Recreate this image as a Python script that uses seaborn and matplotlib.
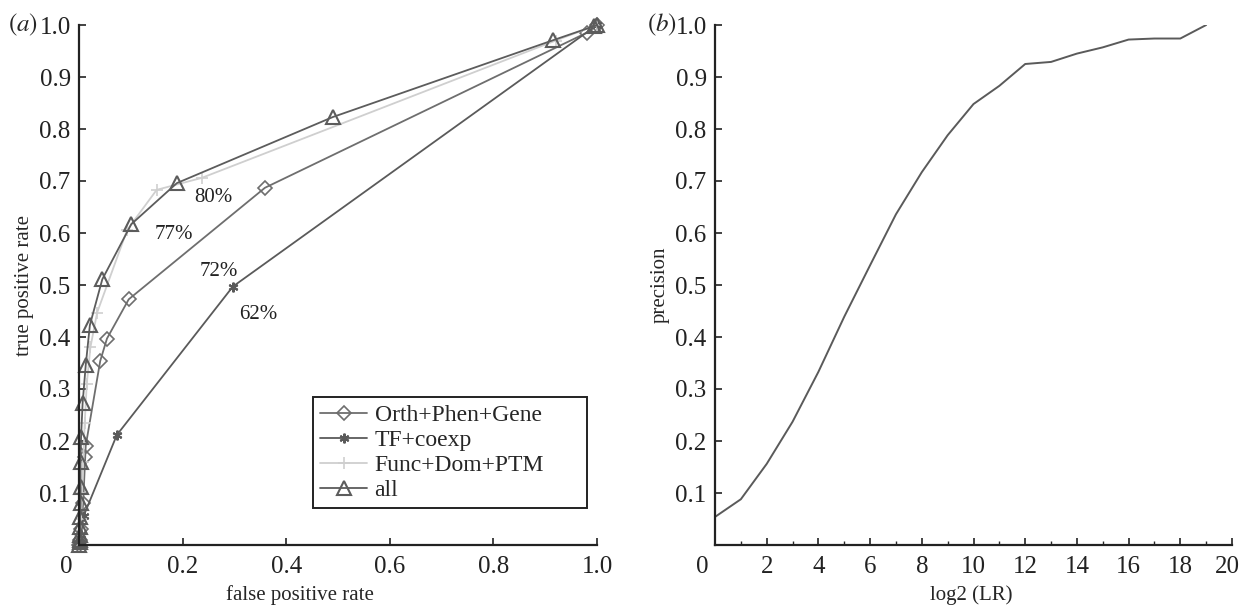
import numpy as np
import pandas as pd
import matplotlib
matplotlib.use("Agg")
import matplotlib.pyplot as plt
import matplotlib.transforms as mtransforms
import seaborn as sns

# ROC points
orth_fpr = [0, 0.002, 0.004, 0.008, 0.012, 0.013, 0.041, 0.054, 0.096, 0.359, 0.98, 1.0]
orth_tpr = [0, 0.01, 0.03, 0.08, 0.169, 0.191, 0.354, 0.397, 0.4725, 0.687, 0.985, 1.0]

tf_fpr = [0, 0.002, 0.004, 0.009, 0.073, 0.297, 1.0]
tf_tpr = [0, 0.005, 0.02, 0.056, 0.2115, 0.497, 1.0]

func_fpr = [0, 0.002, 0.004, 0.006, 0.008, 0.011, 0.015, 0.022, 0.035, 0.093, 0.150, 0.237, 0.92, 1.0]
func_tpr = [0, 0.02, 0.05, 0.1, 0.16, 0.234, 0.31, 0.38, 0.447, 0.606, 0.683, 0.706, 0.97, 1.0]

all_fpr = [0, 0.001, 0.001, 0.002, 0.002, 0.002, 0.003, 0.003, 0.003, 0.004, 0.007, 0.013,
           0.021, 0.045, 0.101, 0.189, 0.49, 0.916, 0.995, 1.0]
all_tpr = [0, 0.005, 0.01, 0.02, 0.035, 0.054, 0.08, 0.112, 0.16, 0.208, 0.273, 0.346,
           0.423, 0.511, 0.617, 0.696, 0.823, 0.971, 0.998, 1.0]

auc_labels = ["80%", "77%", "72%", "62%"]
auc_pos_x = [0.259, 0.184, 0.269, 0.346]
auc_pos_y = [0.669, 0.598, 0.525, 0.444]

# precision curve, panel (b)
log2_lr = list(range(20))
precision = [0.054, 0.088, 0.156, 0.237, 0.333, 0.439, 0.538, 0.636, 0.717, 0.788,
             0.848, 0.883, 0.925, 0.929, 0.945, 0.957, 0.972, 0.974, 0.974, 1.0]

sns.set_style("ticks")
plt.rcParams['font.family'] = ['Liberation Serif', 'DejaVu Serif']
plt.rcParams['mathtext.fontset'] = 'stix'

fig = plt.figure(figsize=(12.42, 6.07), dpi=100)
ax1 = fig.add_axes([79 / 1242, 1 - 545 / 607, 518 / 1242, 520 / 607])
ax2 = fig.add_axes([715 / 1242, 1 - 545 / 607, 517 / 1242, 520 / 607])

series = [
    ("Orth+Phen+Gene", orth_fpr, orth_tpr, dict(marker="D", markersize=7, color="#6e6e6e",
                                                 markerfacecolor="none", markeredgecolor="#6e6e6e",
                                                 markeredgewidth=1.2)),
    ("TF+coexp", tf_fpr, tf_tpr, dict(marker=(6, 2, 0), markersize=7, color="#5a5a5a",
                                      markeredgecolor="#5a5a5a", markeredgewidth=1.5)),
    ("Func+Dom+PTM", func_fpr, func_tpr, dict(marker="+", markersize=9, color="#cfcfcf",
                                              markeredgecolor="#cfcfcf", markeredgewidth=1.2)),
    ("all", all_fpr, all_tpr, dict(marker="^", markersize=10, color="#5c5c5c",
                                   markerfacecolor="none", markeredgecolor="#5c5c5c",
                                   markeredgewidth=1.5)),
]

for name, fx, fy, style in series:
    df = pd.DataFrame({"fpr": fx, "tpr": fy})
    sns.lineplot(data=df, x="fpr", y="tpr", sort=False, estimator=None, ax=ax1,
                 label=name, linewidth=1.3, clip_on=False, **style)

for txt, tx, ty in zip(auc_labels, auc_pos_x, auc_pos_y):
    ax1.text(tx, ty, txt, fontsize=15, ha="center", va="center", color="#222222")

sns.lineplot(x=log2_lr, y=precision, ax=ax2, color="#5a5a5a", linewidth=1.4)

for ax in (ax1, ax2):
    sns.despine(ax=ax)
    ax.spines["left"].set_linewidth(1.6)
    ax.spines["bottom"].set_linewidth(1.6)
    ax.spines["left"].set_color("#222222")
    ax.spines["bottom"].set_color("#222222")
    ax.set_ylim(0, 1.0)
    ax.set_yticks(np.arange(0.1, 1.01, 0.1))
    ax.set_yticklabels([f"{v:.1f}" for v in np.arange(0.1, 1.01, 0.1)])
    ax.tick_params(direction="in", length=5, width=1.2, labelsize=18, pad=6, colors="#222222")
    ax.tick_params(axis="x", pad=8)

ax1.set_xlim(0, 1.0)
ax1.set_xticks([0, 0.2, 0.4, 0.6, 0.8, 1.0])
ax1.set_xticklabels(["0", "0.2", "0.4", "0.6", "0.8", "1.0"])
ax1.set_xlabel("false positive rate", fontsize=15)
ax1.xaxis.set_label_coords((300 - 79) / 518, -0.077)
ax1.set_ylabel("true positive rate", fontsize=15, labelpad=4)

ax2.set_xlim(0, 20)
ax2.set_xticks(range(0, 21, 2))
ax2.set_xticks(range(1, 20, 2), minor=True)
ax2.tick_params(axis="x", which="minor", direction="in", length=3, width=1.0)
ax2.set_xlabel("log2 (LR)", fontsize=15)
ax2.xaxis.set_label_coords(0.495, -0.077)
ax2.set_ylabel("precision", fontsize=15, labelpad=4)

# the "0" label sits a little left of its tick in the original, "20" a little left too
for ax in (ax1, ax2):
    lab = ax.get_xticklabels()[0]
    lab.set_transform(lab.get_transform() + mtransforms.ScaledTranslation(-13 / 100, 0, fig.dpi_scale_trans))
lab = ax2.get_xticklabels()[-1]
lab.set_transform(lab.get_transform() + mtransforms.ScaledTranslation(-5 / 100, 0, fig.dpi_scale_trans))

leg = ax1.legend(loc="lower left", bbox_to_anchor=(0.452, 0.071, 0.529, 0.2), mode="expand",
                 fontsize=17, frameon=True, fancybox=False, framealpha=1, edgecolor="#222222",
                 handlelength=2.0, labelspacing=0.15, borderpad=0.3, handletextpad=0.3,
                 borderaxespad=0)
leg.get_frame().set_linewidth(1.4)

fig.text(8 / 1242, 1 - 25 / 607, "$($" + "$\\it{a}$" + "$)$", fontsize=18, va="center", ha="left")
fig.text(647 / 1242, 1 - 25 / 607, "$($" + "$\\it{b}$" + "$)$", fontsize=18, va="center", ha="left")

fig.savefig("out.png", dpi=100)
